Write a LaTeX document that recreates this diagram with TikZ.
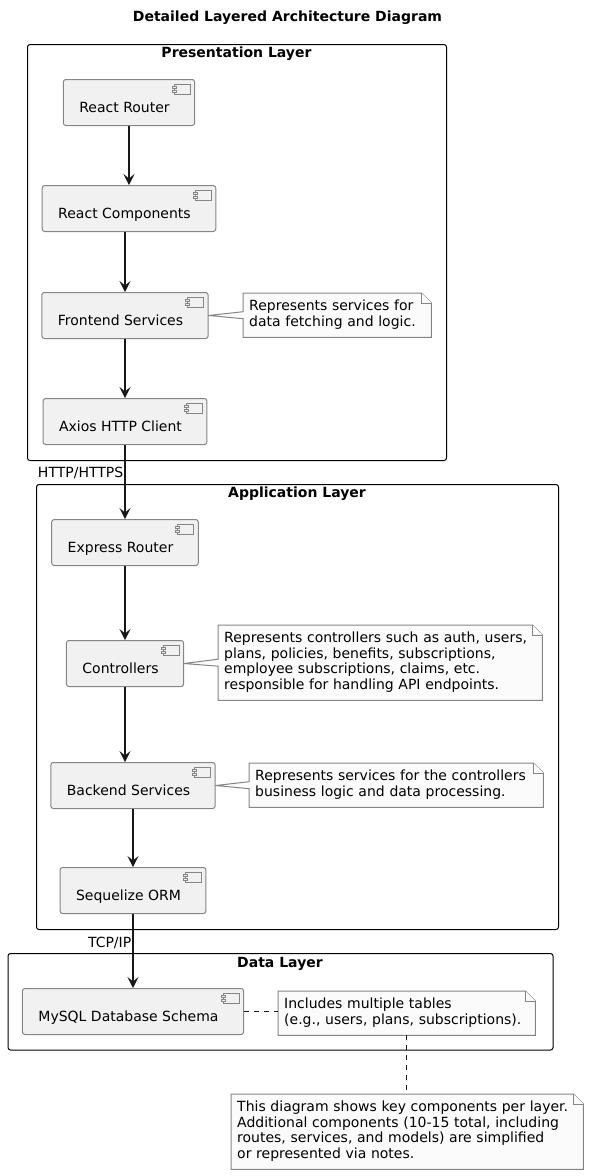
\documentclass[tikz,border=0pt]{standalone}
\usepackage{fontspec}
\setmainfont{DejaVu Sans}
\usetikzlibrary{arrows.meta,backgrounds,calc}
\definecolor{ln}{HTML}{181818}
\definecolor{compbd}{HTML}{858585}
\definecolor{compfill}{HTML}{F1F1F1}
\definecolor{notefill}{HTML}{FBFBFB}
\definecolor{notebdc}{HTML}{858585}
\newcommand\cicon[1]{%
  \draw[iconst] ([xshift=-21pt,yshift=-5pt]#1.north east) rectangle ([xshift=-5pt,yshift=-15pt]#1.north east);
  \draw[iconst] ([xshift=-23pt,yshift=-7pt]#1.north east) rectangle ([xshift=-19pt,yshift=-9pt]#1.north east);
  \draw[iconst] ([xshift=-23pt,yshift=-11pt]#1.north east) rectangle ([xshift=-19pt,yshift=-13pt]#1.north east);}
\newcommand\notewedge[2]{%
  \begin{scope}[on background layer]
  \filldraw[notebd] (#1.north west) -- ([xshift=-10pt]#1.north east) -- ([yshift=-10pt]#1.north east) -- (#1.south east) -- (#1.south west) -- ([yshift=-3.5pt]#1.west) -- (#2.east) -- ([yshift=3.5pt]#1.west) -- cycle;
  \draw[notebd] ([xshift=-10pt]#1.north east) -- ([xshift=-10pt,yshift=-10pt]#1.north east) -- ([yshift=-10pt]#1.north east);
  \end{scope}}
\newcommand\noteplain[1]{%
  \begin{scope}[on background layer]
  \filldraw[notebd] (#1.north west) -- ([xshift=-10pt]#1.north east) -- ([yshift=-10pt]#1.north east) -- (#1.south east) -- (#1.south west) -- cycle;
  \draw[notebd] ([xshift=-10pt]#1.north east) -- ([xshift=-10pt,yshift=-10pt]#1.north east) -- ([yshift=-10pt]#1.north east);
  \end{scope}}
\newcommand\comptext[1]{\hspace*{16pt}#1\hspace*{25pt}}
\begin{document}
\begin{tikzpicture}[x=1pt,y=-1pt,
  comp/.style={draw=compbd, line width=1pt, fill=compfill, rounded corners=2.5pt, inner sep=0pt,
    minimum height=46pt, text height=33pt, text depth=13pt, anchor=north,
    font=\fontsize{14}{16}\selectfont, text=black},
  iconst/.style={draw=compbd, line width=.8pt, fill=compfill},
  notenode/.style={anchor=north west, inner xsep=6pt, inner ysep=6.5pt, align=left,
    font=\fontsize{14}{15.5}\selectfont, text=black},
  notebd/.style={draw=notebdc, line width=1pt, fill=notefill},
  frame/.style={draw=black, line width=1pt, rounded corners=2.5pt, anchor=north west, inner sep=0pt},
  ftitle/.style={font=\fontsize{14}{16}\selectfont\bfseries, inner sep=0pt},
  arr/.style={draw=ln, line width=1.5pt, -{Stealth[length=11pt,width=11pt,inset=4.5pt]}},
  elabel/.style={font=\fontsize{14}{16}\selectfont, inner sep=1pt, anchor=east},
  dashline/.style={draw=ln, line width=1.2pt, dash pattern=on 5pt off 5pt}]
\useasboundingbox (0,0) rectangle (589,1176);

% title
\node[ftitle] (title) at (287.5,18) {Detailed Layered Architecture Diagram};

% frames
\node[frame, minimum width=419pt, minimum height=416pt] (pl) at (27,44) {};
\node[ftitle] (plt) at (236.5,54) {Presentation Layer};
\node[frame, minimum width=522pt, minimum height=445pt] (al) at (36,484) {};
\node[ftitle] (alt) at (297,494) {Application Layer};
\node[frame, minimum width=545pt, minimum height=96.5pt] (dl) at (7.5,953) {};
\node[ftitle] (dlt) at (280,964) {Data Layer};

% components
\node[comp] (rr) at (129,79) {\comptext{React Router}};
\node[comp] (rc) at (129,185) {\comptext{React Components}};
\node[comp] (fs) at (125,292) {\comptext{Frontend Services}};
\node[comp] (ax) at (125,398) {\comptext{Axios HTTP Client}};
\node[comp] (er) at (125,519) {\comptext{Express Router}};
\node[comp] (ct) at (125,640) {\comptext{Controllers}};
\node[comp] (be) at (133,762) {\comptext{Backend Services}};
\node[comp] (sq) at (133,867) {\comptext{Sequelize ORM}};
\node[comp] (my) at (133,988) {\comptext{MySQL Database Schema}};
\foreach \c in {rr,rc,fs,ax,er,ct,be,sq,my} {\cicon{\c}}

% notes
\node[notenode, text width=176pt] (n1) at (243,293) {\begin{tabular}{@{}l@{}}Represents services for\\data fetching and logic.\end{tabular}};
\notewedge{n1}{fs}
\node[notenode, text width=312pt] (n2) at (218,625) {\begin{tabular}{@{}l@{}}Represents controllers such as auth, users,\\plans, policies, benefits, subscriptions,\\employee subscriptions, claims, etc.\\responsible for handling API endpoints.\end{tabular}};
\notewedge{n2}{ct}
\node[notenode, text width=282pt] (n3) at (249,763) {\begin{tabular}{@{}l@{}}Represents services for the controllers\\business logic and data processing.\end{tabular}};
\notewedge{n3}{be}
\node[notenode, text width=245pt] (n4) at (278,991) {\begin{tabular}{@{}l@{}}Includes multiple tables\\(e.g., users, plans, subscriptions).\end{tabular}};
\noteplain{n4}
\node[notenode, text width=340pt] (n5) at (231,1094) {\begin{tabular}{@{}l@{}}This diagram shows key components per layer.\\Additional components (10-15 total, including\\routes, services, and models) are simplified\\or represented via notes.\end{tabular}};
\noteplain{n5}

% connectors
\draw[arr] (rr.south) -- (rc.north);
\draw[arr] (fs.north |- rc.south) -- (fs.north);
\draw[arr] (fs.south) -- (ax.north);
\draw[arr] (ax.south) -- node[elabel, pos=0.373] (lh) {HTTP/HTTPS} (er.north);
\draw[arr] (er.south) -- (ct.north);
\draw[arr] (ct.south) -- (ct.south |- be.north);
\draw[arr] (be.south) -- (sq.north);
\draw[arr] (sq.south) -- node[elabel, pos=0.387] (lt) {TCP/IP} (my.north);
\draw[dashline] (my.east) -- (my.east -| n4.west);
\draw[dashline] (n4.south) -- (n4.south |- n5.north);
\end{tikzpicture}
\end{document}
